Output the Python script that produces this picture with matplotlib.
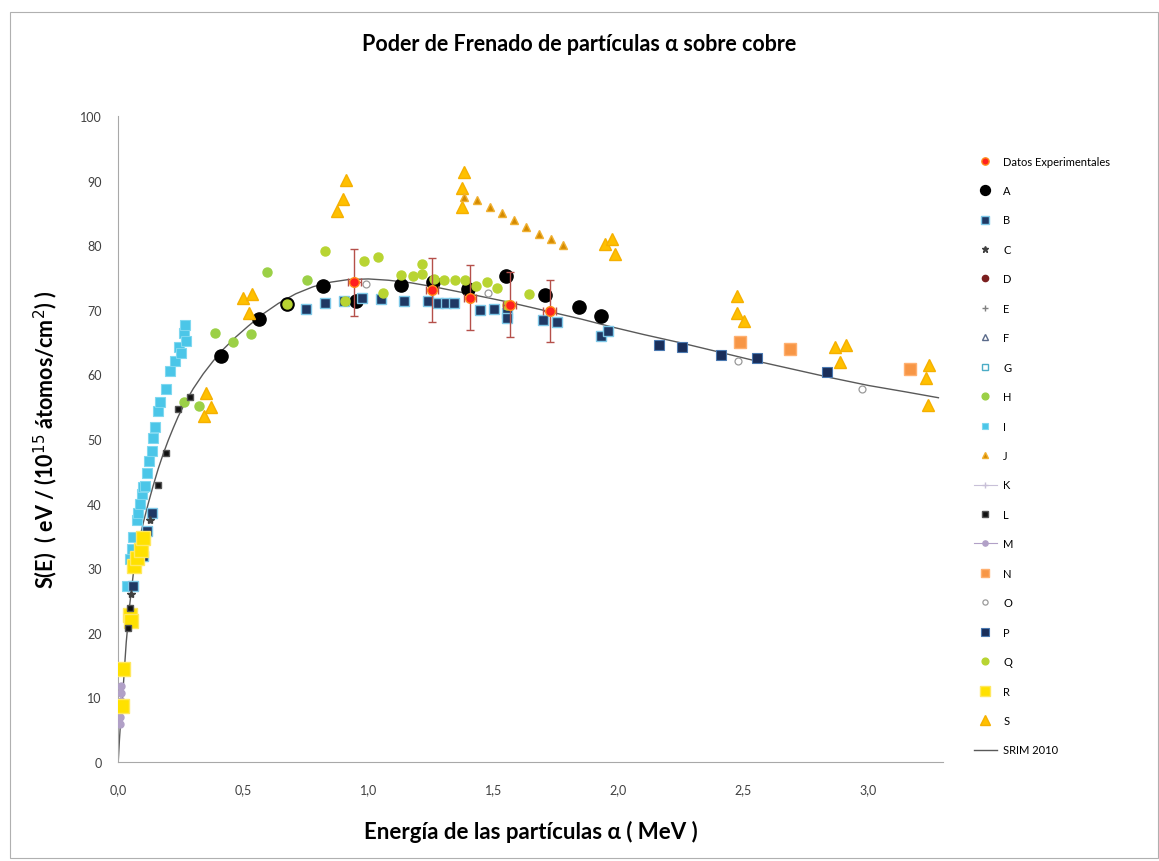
import numpy as np
import matplotlib.pyplot as plt
from matplotlib.lines import Line2D
from matplotlib.patches import Rectangle

plt.rcParams['font.family'] = ['Lato', 'DejaVu Sans']

# energias en MeV, poder de frenado en eV/(1e15 at/cm2)
exp_E = [0.944, 1.254, 1.407, 1.565, 1.725]
exp_S = [74.3, 73.1, 71.9, 70.8, 69.9]
exp_err = [5.2, 5.0, 5.0, 5.0, 4.8]

A_E = [0.413, 0.563, 0.676, 0.819, 0.95, 1.13, 1.258, 1.40, 1.549, 1.705, 1.843, 1.932]
A_S = [62.8, 68.6, 70.9, 73.7, 71.4, 73.9, 74.4, 73.2, 75.3, 72.3, 70.5, 69.1]

B_E = [0.061, 0.100, 0.114, 0.134, 0.751, 0.828, 0.902, 0.976, 1.05, 1.143, 1.238, 1.28, 1.31,
       1.341, 1.447, 1.502, 1.553, 1.553, 1.697, 1.754, 1.93, 1.96]
B_S = [27.3, 31.9, 35.8, 38.6, 70.2, 71.0, 71.4, 71.9, 71.7, 71.4, 71.4, 71.0, 71.0,
       71.0, 70.0, 70.2, 69.5, 68.8, 68.4, 68.1, 66.0, 66.8]

C_E = [0.05, 0.128]
C_S = [26.0, 37.5]

H_E = [0.262, 0.323, 0.389, 0.458, 0.53, 0.595, 0.755]
H_S = [55.8, 55.1, 66.5, 65.1, 66.3, 75.9, 74.6]

I_E = [0.034, 0.048, 0.054, 0.061, 0.074, 0.081, 0.087, 0.094, 0.100, 0.107, 0.114, 0.124, 0.134,
       0.14, 0.147, 0.16, 0.167, 0.193, 0.206, 0.226, 0.243, 0.25, 0.262, 0.266, 0.272]
I_S = [27.3, 31.4, 33.0, 34.8, 37.4, 38.6, 39.9, 41.5, 42.5, 42.8, 44.8, 46.6, 48.2,
       50.2, 51.8, 54.4, 55.7, 57.8, 60.6, 62.1, 64.2, 63.4, 66.5, 67.6, 65.2]

J_E = [1.384, 1.434, 1.485, 1.533, 1.582, 1.632, 1.681, 1.731, 1.78]
J_S = [87.5, 87.0, 86.0, 85.0, 83.9, 82.9, 81.7, 81.0, 80.0]

L_E = [0.041, 0.048, 0.16, 0.19, 0.239, 0.286]
L_S = [20.8, 23.9, 42.9, 47.9, 54.6, 56.5]

M_E = [0.008, 0.008, 0.010, 0.010, 0.012, 0.012]
M_S = [5.8, 7.0, 8.2, 9.5, 10.7, 11.8]

N_E = [2.486, 2.687, 3.167]
N_S = [65.1, 63.9, 60.8]

O_E = [0.99, 1.479, 2.48, 2.975]
O_S = [74.0, 72.6, 62.1, 57.8]

P_E = [2.164, 2.256, 2.412, 2.556, 2.836]
P_S = [64.5, 64.3, 63.0, 62.5, 60.4]

Q_E = [0.676, 0.828, 0.907, 0.984, 1.037, 1.06, 1.13, 1.178, 1.215, 1.215, 1.262, 1.304, 1.346,
       1.387, 1.43, 1.473, 1.513, 1.553, 1.641]
Q_S = [70.9, 79.2, 71.4, 77.6, 78.2, 72.6, 75.4, 75.3, 77.1, 75.5, 74.8, 74.6, 74.6,
       74.6, 73.7, 74.3, 73.4, 70.8, 72.4]

R_E = [0.015, 0.021, 0.046, 0.05, 0.062, 0.075, 0.09, 0.10]
R_S = [8.6, 14.4, 22.8, 21.8, 30.3, 31.6, 32.8, 34.6]

S_E = [0.345, 0.352, 0.371, 0.50, 0.524, 0.534, 0.874, 0.897, 0.911, 1.374, 1.374, 1.384,
       1.946, 1.975, 1.988, 2.476, 2.476, 2.501, 2.868, 2.885, 2.911, 3.229, 3.238, 3.242]
S_S = [53.5, 57.2, 54.9, 71.9, 69.6, 72.4, 85.3, 87.2, 90.2, 86.0, 88.9, 91.3,
       80.2, 81.0, 78.6, 72.2, 69.5, 68.3, 64.2, 62.0, 64.5, 59.5, 55.3, 61.4]

# curva SRIM 2010
srim_E = [0.0, 0.005, 0.01, 0.017, 0.025, 0.032, 0.045, 0.06, 0.08, 0.1, 0.12, 0.14, 0.16,
          0.18, 0.2, 0.22, 0.24, 0.27, 0.3, 0.34, 0.38, 0.42, 0.47, 0.52, 0.58, 0.64, 0.71,
          0.78, 0.85, 0.92, 1.0, 1.08, 1.17, 1.26, 1.35, 1.45, 1.55, 1.65, 1.75, 1.85, 1.97,
          2.1, 2.25, 2.4, 2.55, 2.7, 2.85, 3.0, 3.15, 3.28]
srim_S = [0.0, 3.5, 6.5, 9.8, 14.5, 18.5, 24.0, 29.0, 33.6, 37.0, 40.0, 42.8, 45.4,
          47.7, 49.8, 51.7, 53.5, 55.8, 57.8, 60.1, 62.1, 63.9, 65.8, 67.5, 69.4, 71.0, 72.5,
          73.6, 74.3, 74.7, 74.8, 74.6, 74.2, 73.6, 72.9, 72.1, 71.3, 70.4, 69.5, 68.6, 67.4,
          66.2, 64.9, 63.5, 62.1, 60.8, 59.5, 58.3, 57.3, 56.4]

fig = plt.figure(figsize=(11.59, 8.62), dpi=100)
ax = fig.add_axes([0.102, 0.115, 0.712, 0.749])

fig.patches.append(Rectangle((0.009, 0.003), 0.99, 0.982, transform=fig.transFigure,
                             fill=False, edgecolor='#b0b0b0', lw=0.8))

srim, = ax.plot(srim_E, srim_S, color='#595959', lw=1.0, zorder=2)

ax.errorbar(exp_E, exp_S, yerr=exp_err, xerr=0.025, fmt='o', ms=7,
            mfc='#ff2020', mec='#ff8c1a', ecolor='#b5504a', elinewidth=1.0,
            capsize=3, zorder=6)
hExp = Line2D([], [], marker='o', ls='none', ms=7, mfc='#ff2020', mec='#ff8c1a')
hA, = ax.plot(A_E, A_S, 'o', ms=9.5, color='black', zorder=4)
hB, = ax.plot(B_E, B_S, 's', ms=7.5, mfc='#1f3864', mec='#7ec8e8', mew=1.0, zorder=4)
hC, = ax.plot(C_E, C_S, '*', ms=6, color='#404040', zorder=5)
hD = Line2D([], [], marker='o', ls='none', ms=6, color='#7b1f1f')
hE = Line2D([], [], marker='+', ls='none', ms=6, color='#808080')
hF = Line2D([], [], marker='^', ls='none', ms=6, mfc='none', mec='#5a6a8a')
hG = Line2D([], [], marker='s', ls='none', ms=6, mfc='none', mec='#4bacc6')
hH, = ax.plot(H_E, H_S, 'o', ms=6.5, color='#9bd046', zorder=5)
hI, = ax.plot(I_E, I_S, 's', ms=6.5, mfc='#4bc6e8', mec='#7fd8f0', mew=0.8, zorder=3)
hJ, = ax.plot(J_E, J_S, '^', ms=5.5, mfc='#d48a00', mec='#f0b030', zorder=5)
hK = Line2D([], [], marker='+', ms=5, color='#c8c0d8', lw=0.8)
hL, = ax.plot(L_E, L_S, 's', ms=5, mfc='#111111', mec='#555555', zorder=5)
hM, = ax.plot(M_E, M_S, 'o-', ms=5, color='#b1a0c7', lw=0.8, zorder=4)
hN, = ax.plot(N_E, N_S, 's', ms=8, mfc='#f79646', mec='#ffb070', zorder=4)
hO, = ax.plot(O_E, O_S, 'o', ms=5, mfc='white', mec='#9a9a9a', mew=0.9, zorder=5)
hP, = ax.plot(P_E, P_S, 's', ms=7.5, mfc='#1a2e5a', mec='#4a78b0', mew=0.8, zorder=4)
hQ, = ax.plot(Q_E, Q_S, 'o', ms=6.5, color='#b8d432', zorder=5)
hR, = ax.plot(R_E, R_S, 's', ms=10, mfc='#ffe100', mec='#ffe860', zorder=4)
hS, = ax.plot(S_E, S_S, '^', ms=9, mfc='#ffc000', mec='#f5b000', zorder=4)

ax.set_xlim(0, 3.3)
ax.set_ylim(0, 100)
ax.set_xticks(np.arange(0, 3.01, 0.5))
ax.set_xticklabels([f'{v:.1f}'.replace('.', ',') for v in np.arange(0, 3.01, 0.5)])
ax.set_yticks(np.arange(0, 101, 10))
ax.tick_params(length=0, labelsize=9, colors='#404040', pad=15)
ax.tick_params(axis='y', pad=12)
for s in ['top', 'right']:
    ax.spines[s].set_visible(False)
for s in ['left', 'bottom']:
    ax.spines[s].set_color('#a8a8a8')
    ax.spines[s].set_linewidth(0.8)

ax.set_xlabel('Energía de las partículas α ( MeV )', fontsize=16, fontweight='bold', labelpad=18)
ax.set_ylabel('S(E)  ( eV / (10$^{15}$ átomos/cm$^{2}$) )', fontsize=15.5, fontweight='bold',
              labelpad=14)
fig.text(0.5, 0.948, 'Poder de Frenado de partículas α sobre cobre', ha='center', va='center',
         fontsize=15.5, fontweight='bold')

handles = [hExp, hA, hB, hC, hD, hE, hF, hG, hH, hI, hJ, hK, hL, hM, hN, hO, hP, hQ, hR, hS, srim]
labels = ['Datos Experimentales', 'A', 'B', 'C', 'D', 'E', 'F', 'G', 'H', 'I', 'J', 'K', 'L',
          'M', 'N', 'O', 'P', 'Q', 'R', 'S', 'SRIM 2010']
fig.legend(handles, labels, loc='upper left', bbox_to_anchor=(0.832, 0.83), frameon=False,
           fontsize=8, labelspacing=1.66, handlelength=2.0, handletextpad=0.6,
           markerscale=0.75)

fig.savefig('out.png', dpi=100)
